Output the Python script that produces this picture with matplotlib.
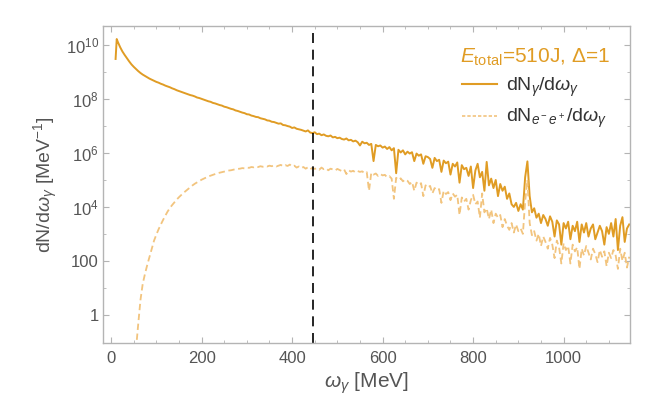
import numpy as np
import matplotlib
matplotlib.use("Agg")
import matplotlib.pyplot as plt
from matplotlib.lines import Line2D

plt.rcParams['font.family'] = ['Liberation Sans', 'DejaVu Sans']
plt.rcParams['mathtext.fontset'] = 'custom'
plt.rcParams['mathtext.rm'] = 'Liberation Sans'
plt.rcParams['mathtext.it'] = 'Liberation Sans:italic'

# photon spectrum, bin centres [MeV] and log10(dN/dw) values
omega_gamma = np.concatenate([[10, 12.5], np.arange(15, 1150, 5)])
log_dN_gamma = [
    9.49, 10.23,
    10.12, 9.93, 9.77, 9.64, 9.52, 9.40, 9.29, 9.20, 9.12, 9.04,
    8.97, 8.91, 8.86, 8.81, 8.76, 8.72, 8.68, 8.64, 8.61, 8.57,
    8.54, 8.50, 8.47, 8.44, 8.40, 8.37, 8.33, 8.30, 8.27, 8.24,
    8.21, 8.18, 8.15, 8.13, 8.10, 8.06, 8.04, 8.01, 7.98, 7.95,
    7.92, 7.90, 7.86, 7.84, 7.81, 7.78, 7.76, 7.72, 7.70, 7.67,
    7.64, 7.62, 7.58, 7.56, 7.53, 7.50, 7.48, 7.44, 7.43, 7.39,
    7.37, 7.34, 7.33, 7.29, 7.27, 7.25, 7.21, 7.20, 7.16, 7.15,
    7.12, 7.09, 7.10, 7.04, 7.03, 7.00, 6.98, 6.93, 6.95, 6.90,
    6.88, 6.86, 6.83, 6.80, 6.84, 6.76, 6.74, 6.77, 6.70, 6.72,
    6.66, 6.69, 6.64, 6.62, 6.65, 6.58, 6.60, 6.55, 6.57, 6.52,
    6.50, 6.54, 6.47, 6.49, 6.43, 6.46, 6.40, 6.28, 6.42, 6.36,
    6.38, 6.30, 6.34, 5.70, 6.30, 6.25, 6.28, 6.20, 6.24, 6.15,
    6.22, 6.10, 6.18, 5.25, 6.12, 6.02, 6.10, 5.95, 6.05, 5.98,
    6.03, 5.70, 5.98, 5.90, 5.95, 5.60, 5.88, 5.85, 5.78, 5.45,
    5.82, 5.70, 5.75, 5.30, 5.72, 5.62, 5.68, 5.20, 5.60, 5.50,
    5.65, 4.90, 5.55, 5.40, 5.45, 5.15, 5.50, 4.70, 5.35, 5.60,
    5.10, 5.30, 4.60, 5.67, 4.80, 5.05, 4.70, 5.00, 4.40, 4.85,
    4.60, 4.75, 4.30, 4.50, 4.10, 4.00, 4.15, 3.85, 4.10, 3.90,
    5.10, 5.69, 4.40, 3.80, 3.95, 3.60, 3.75, 3.40, 3.70, 3.55,
    3.30, 3.65, 3.45, 2.90, 3.50, 3.35, 2.60, 3.40, 3.20, 3.45,
    2.80, 3.30, 3.10, 3.45, 2.70, 3.35, 3.05, 3.40, 2.90, 3.20,
    3.35, 2.80, 3.05, 3.30, 3.10, 2.60, 3.25, 3.00, 3.40, 2.90,
    3.55, 2.40, 3.30, 3.62, 2.70, 3.20, 3.35,
]

# pair spectrum
omega_pair = np.arange(55, 1150, 5)
log_dN_pair = [
    -1.30, -0.35, 0.55, 1.15, 1.52, 1.85, 2.15, 2.45, 2.75, 2.97,
    3.17, 3.35, 3.52, 3.68, 3.83, 3.96, 4.07, 4.17, 4.27, 4.36,
    4.44, 4.52, 4.59, 4.66, 4.73, 4.80, 4.86, 4.91, 4.96, 5.01,
    5.05, 5.09, 5.13, 5.16, 5.19, 5.22, 5.25, 5.27, 5.29, 5.31,
    5.33, 5.35, 5.36, 5.38, 5.40, 5.41, 5.42, 5.44, 5.43, 5.46,
    5.45, 5.48, 5.47, 5.50, 5.48, 5.51, 5.49, 5.52, 5.50, 5.53,
    5.51, 5.54, 5.50, 5.53, 5.56, 5.51, 5.55, 5.52, 5.57, 5.50,
    5.53, 5.46, 5.50, 5.44, 5.48, 5.42, 5.47, 5.40, 5.45, 5.41,
    5.44, 5.38, 5.46, 5.40, 5.43, 5.36, 5.42, 5.39, 5.35, 5.41,
    5.37, 5.33, 5.39, 5.22, 5.36, 5.31, 5.34, 5.28, 5.33, 5.30,
    5.32, 5.25, 5.29, 4.60, 5.27, 5.20, 5.24, 5.15, 5.22, 5.17,
    5.19, 5.10, 5.14, 5.05, 4.30, 5.08, 5.00, 5.06, 4.95, 5.02,
    4.97, 4.85, 4.93, 4.60, 4.90, 4.82, 4.88, 4.40, 4.80, 4.72,
    4.78, 4.50, 4.70, 4.62, 4.66, 4.15, 4.60, 4.48, 4.55, 4.25,
    4.50, 4.38, 4.45, 3.70, 4.35, 4.20, 4.30, 3.90, 4.25, 4.45,
    4.10, 4.20, 3.60, 4.50, 3.80, 3.95, 3.55, 3.90, 3.40, 3.75,
    3.60, 3.70, 3.25, 3.55, 3.30, 3.15, 3.40, 3.05, 3.35, 3.10,
    3.20, 3.00, 4.20, 5.00, 3.40, 2.95, 3.10, 2.75, 3.00, 2.55,
    2.90, 2.70, 2.45, 2.85, 2.60, 2.10, 2.75, 2.50, 1.90, 2.65,
    2.40, 2.55, 1.90, 2.60, 2.35, 2.50, 1.70, 2.45, 2.20, 2.55,
    2.30, 2.05, 2.45, 2.25, 1.95, 2.40, 2.15, 2.35, 1.80, 2.30,
    2.10, 2.40, 2.20, 1.70, 2.45, 2.00, 2.30, 1.75, 2.15,
]

omega_cut = 446  # vertical marker [MeV]

y_ticks = [1, 1e2, 1e4, 1e6, 1e8, 1e10]
y_tick_labels = ['1', '100', r'$10^4$', r'$10^6$', r'$10^8$', r'$10^{10}$']

c_gamma = '#E09C24'
c_pair = '#F2C47E'
grey = '#555555'
frame = '#B4B4B4'

fig = plt.figure(figsize=(6.64, 3.99), dpi=100)
ax = fig.add_axes([0.155, 0.1416, 0.794, 0.7934])

ax.plot(omega_gamma, 10.0 ** np.array(log_dN_gamma), color=c_gamma, lw=1.4)
ax.plot(omega_pair, 10.0 ** np.array(log_dN_pair), color=c_pair, lw=1.3,
        dashes=(3.5, 2))
ax.axvline(omega_cut, color='black', lw=1.2, dashes=(6, 4))

ax.set_yscale('log')
ax.set_xlim(-18, 1147)
ax.set_ylim(0.093, 5.2e10)

ax.set_xticks([0, 200, 400, 600, 800, 1000])
ax.set_xticks(np.arange(0, 1150, 50), minor=True)
ax.set_yticks(y_ticks)
ax.set_yticklabels(y_tick_labels)
ax.set_yticks([10, 1e3, 1e5, 1e7, 1e9], minor=True)
ax.yaxis.set_minor_formatter(matplotlib.ticker.NullFormatter())

ax.tick_params(which='both', direction='in', top=True, right=True,
               color=frame, labelcolor=grey, labelsize=12)
ax.tick_params(which='major', length=4.5, width=0.8)
ax.tick_params(which='minor', length=2.5, width=0.6)
ax.tick_params(axis='x', pad=6)
ax.tick_params(axis='y', pad=3)
for s in ax.spines.values():
    s.set_color(frame)
    s.set_linewidth(1.0)

ax.set_xlabel(r'$\omega_\gamma$ [MeV]', fontsize=15, color=grey, labelpad=3)
ax.set_ylabel(r'dN/d$\omega_\gamma$ [MeV$^{-1}$]', fontsize=14, color=grey,
              labelpad=4)

handles = [Line2D([], [], color=c_gamma, lw=1.5),
           Line2D([], [], color=c_pair, lw=1.2, dashes=(2, 1.2))]
labels = [r'dN$_\gamma$/d$\omega_\gamma$', r'dN$_{e^-e^+}$/d$\omega_\gamma$']
leg = ax.legend(handles, labels, loc='upper right', frameon=False,
                fontsize=14, title=r'$E_{\rm total}$=510J, $\Delta$=1',
                title_fontsize=15, handlelength=1.8, handletextpad=0.45,
                labelspacing=0.42, borderaxespad=0.65)
leg.get_title().set_color(c_gamma)
for t in leg.get_texts():
    t.set_color('#333333')

fig.savefig('out.png', dpi=100)
